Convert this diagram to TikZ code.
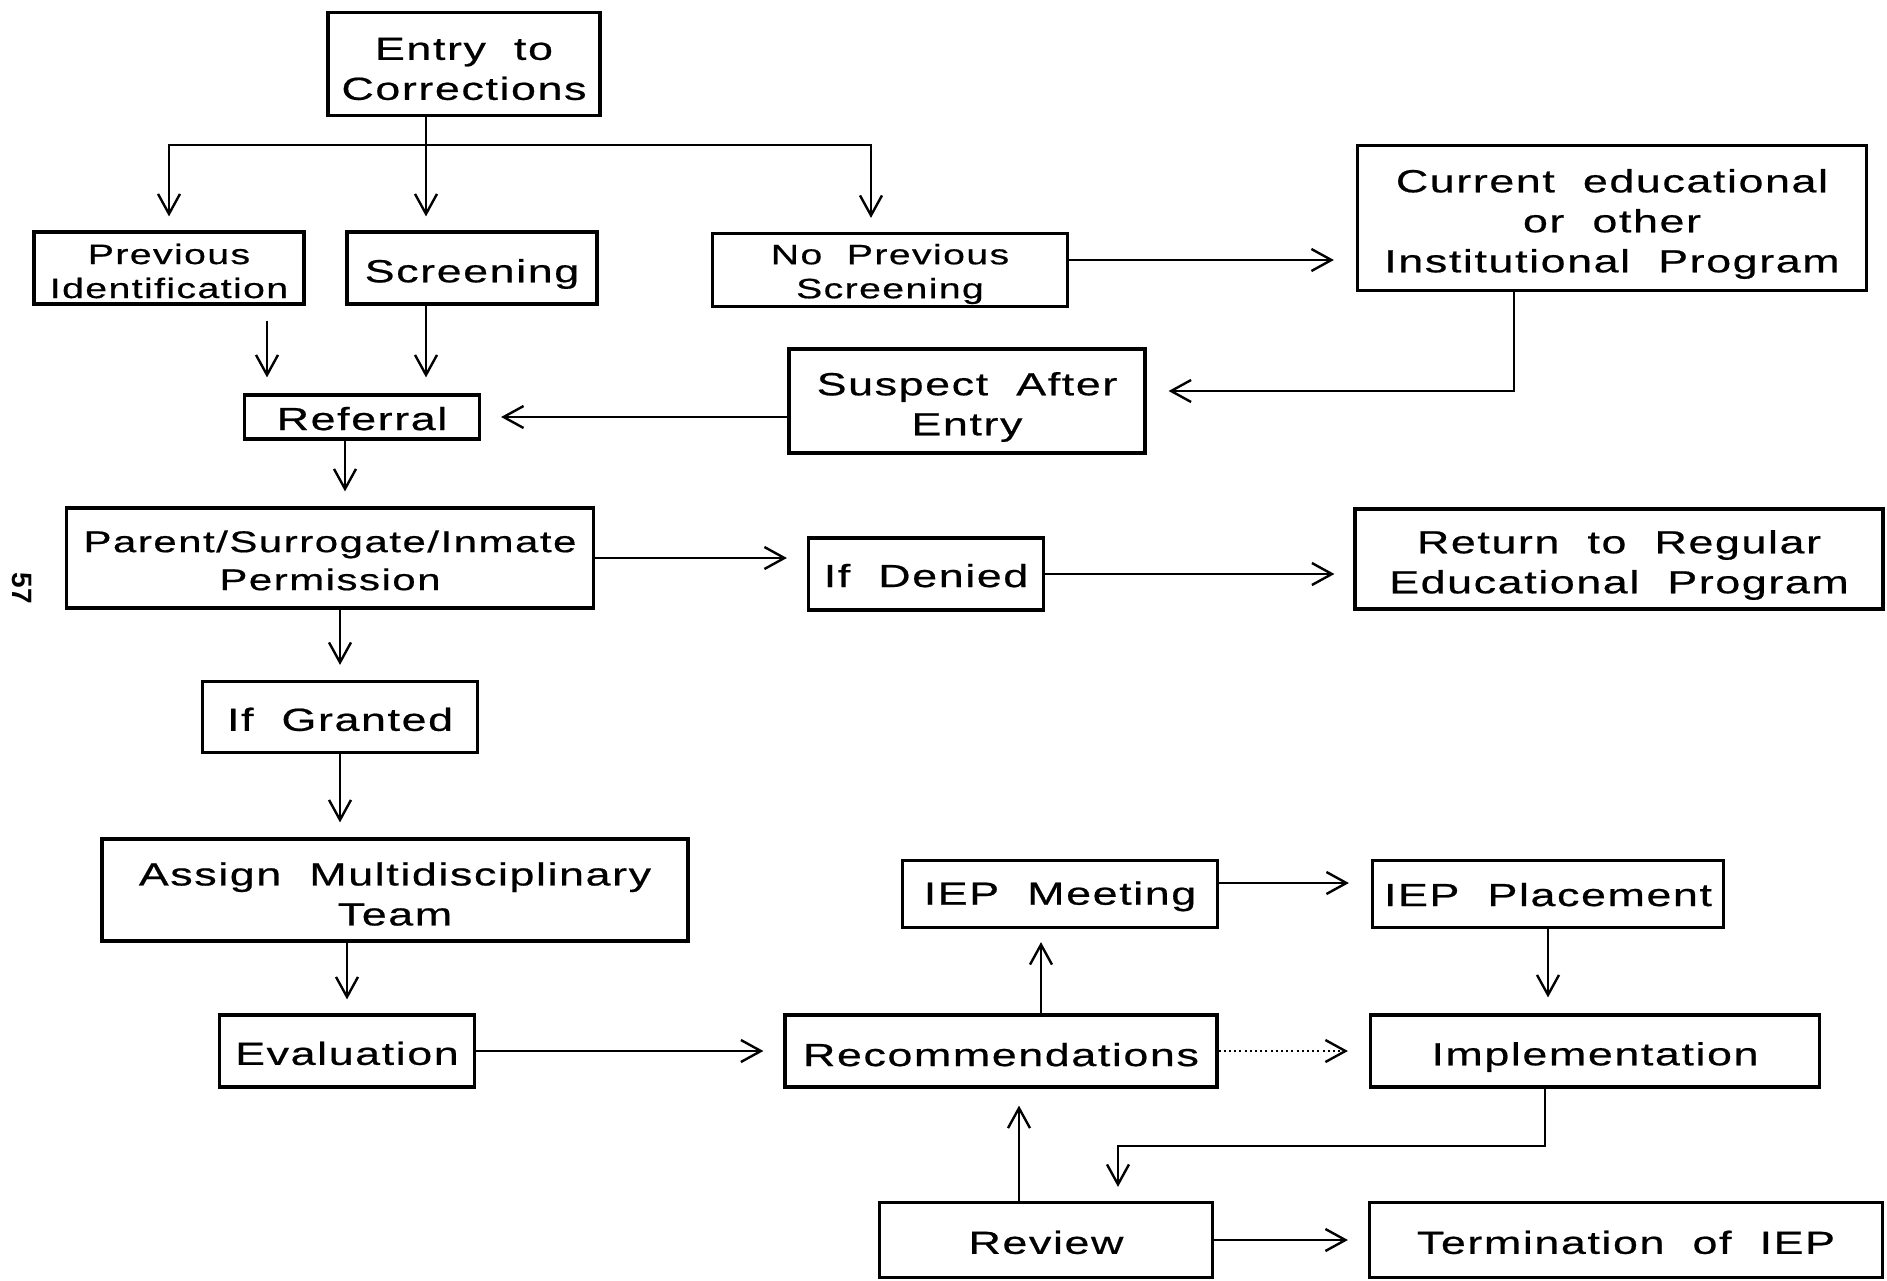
\documentclass[tikz,border=0pt]{standalone}
\usepackage{fontspec}
\setmainfont{Liberation Sans}
\newfontfamily\plotfont[FakeStretch=1.4,LetterSpace=5,WordSpace=2,FakeBold=0.6]{Liberation Sans}
\usetikzlibrary{arrows.meta}
% #1 name, #2 position, #3 width px, #4 height px, #5 text style, #6 text shift, #7 text
\newcommand\flowbox[7]{%
  \node[bx, wh={#3}{#4}] (#1) at #2 {};
  \node[txt, #5] (#1-t) at ([yshift=#6]#1.center) {#7};
}
\begin{document}
\begin{tikzpicture}[x=0.5pt,y=-0.5pt,
  bx/.style={draw, line width=1.6pt, inner sep=0pt},
  txt/.style={inner sep=0pt, align=center, font=\plotfont\fontsize{16}{20}\selectfont},
  big/.style={},
  sm/.style={font=\plotfont\fontsize{14}{17}\selectfont},
  md/.style={font=\plotfont\fontsize{15}{19}\selectfont},
  wh/.style 2 args={minimum width=#1*0.5pt, minimum height=#2*0.5pt},
  ln/.style={line width=1.2pt},
  arr/.style={line width=1.2pt, -{Straight Barb[length=10pt,width=11pt]}},
  dotarr/.style={arr, dash pattern=on 1pt off 1.6pt}]
\useasboundingbox (0,0) rectangle (1887,1281);

% nodes
\flowbox{entry}{(464,64)}{272}{103}{big}{-2.5pt}{Entry to\\Corrections}
\flowbox{previd}{(169,268)}{270}{72}{sm}{-1.5pt}{Previous\\Identification}
\flowbox{screen}{(472,268)}{250}{72}{big}{-3pt}{Screening}
\flowbox{noprev}{(890,270)}{355}{73}{sm}{-2pt}{No Previous\\Screening}
\flowbox{current}{(1612,218)}{509}{145}{big}{-3pt}{Current educational\\or other\\Institutional Program}
\flowbox{suspect}{(967,401)}{356}{104}{big}{-3pt}{Suspect After\\Entry}
\flowbox{referral}{(362,417)}{235}{44}{big}{-0.8pt}{Referral}
\flowbox{parent}{(330,558)}{527}{100}{md}{-1.2pt}{Parent/Surrogate/Inmate\\Permission}
\flowbox{denied}{(926,574)}{235}{72}{big}{-0.8pt}{If Denied}
\flowbox{return}{(1619,559)}{528}{100}{big}{-3pt}{Return to Regular\\Educational Program}
\flowbox{granted}{(340,717)}{275}{71}{big}{-1.2pt}{If Granted}
\flowbox{assign}{(395,890)}{586}{102}{big}{-2pt}{Assign Multidisciplinary\\Team}
\flowbox{eval}{(347,1051)}{255}{72}{big}{-1.2pt}{Evaluation}
\flowbox{meeting}{(1060,894)}{315}{67}{big}{-1.2pt}{IEP Meeting}
\flowbox{placement}{(1548,894)}{351}{67}{big}{-0.3pt}{IEP Placement}
\flowbox{recom}{(1001,1051)}{432}{72}{big}{-1.8pt}{Recommendations}
\flowbox{impl}{(1595,1051)}{449}{72}{big}{-3pt}{Implementation}
\flowbox{review}{(1046,1240)}{333}{75}{big}{-1.2pt}{Review}
\flowbox{term}{(1626,1240)}{513}{75}{big}{-1.2pt}{Termination of IEP}

\node[rotate=-90, font=\bfseries\fontsize{14}{14}\selectfont] (pagenum) at (22,588) {57};

% connectors
\coordinate (split) at (426,145);
\draw[ln] (entry.south -| split) -- (split);
\draw[arr, shorten >=7pt] (split) -| (previd.north);
\draw[arr, shorten >=7pt] (split) -- (screen.north -| split);
\draw[arr, shorten >=7pt] (split) -| ([xshift=-9.5pt]noprev.north);

\draw[arr, shorten <=7.5pt, shorten >=8pt] ([xshift=49pt]previd.south) -- ([xshift=49pt]previd.south |- referral.north);
\draw[arr, shorten >=8pt] (screen.south -| split) -- (referral.north -| split);

\draw[arr, shorten >=11pt] ([yshift=5pt]noprev.east) -- ([yshift=5pt]noprev.east -| current.west);
\draw[arr, shorten >=11pt] ([xshift=-49pt]current.south) |- ([yshift=5pt]suspect.east);
\draw[arr, shorten >=10pt] (suspect.west |- referral.east) -- (referral.east);

\draw[arr, shorten >=7.5pt] ([xshift=-8.5pt]referral.south) -- ([xshift=-8.5pt]referral.south |- parent.north);
\draw[arr, shorten >=10pt] (parent.east) -- (parent.east -| denied.west);
\draw[arr, shorten >=9.5pt] (denied.east) -- (denied.east -| return.west);
\draw[arr, shorten >=7.5pt] (granted.north |- parent.south) -- (granted.north);
\draw[arr, shorten >=7.5pt] (granted.south) -- (granted.south |- assign.north);
\draw[arr, shorten >=7pt] (eval.north |- assign.south) -- (eval.north);

\draw[arr, shorten >=10pt] (eval.east) -- (eval.east -| recom.west);
\draw[arr, shorten >=6.5pt] ([xshift=20pt]recom.north) -- ([xshift=20pt]recom.north |- meeting.south);
\draw[arr, shorten >=11pt] ([yshift=5.5pt]meeting.east) -- ([yshift=5.5pt]meeting.east -| placement.west);
\draw[arr, shorten >=8pt] (placement.south) -- (placement.south |- impl.north);
\draw[dotarr, shorten >=10.5pt] (recom.east) -- (recom.east -| impl.west);

\coordinate (bend) at (1118,1146);
\draw[arr, shorten >=7pt] ([xshift=-25pt]impl.south) |- (bend) -- (bend |- review.north);
\draw[arr, shorten >=8.5pt] ([xshift=-13.5pt]review.north) -- ([xshift=-13.5pt]review.north |- recom.south);
\draw[arr, shorten >=10pt] (review.east) -- (review.east -| term.west);
\end{tikzpicture}
\end{document}
